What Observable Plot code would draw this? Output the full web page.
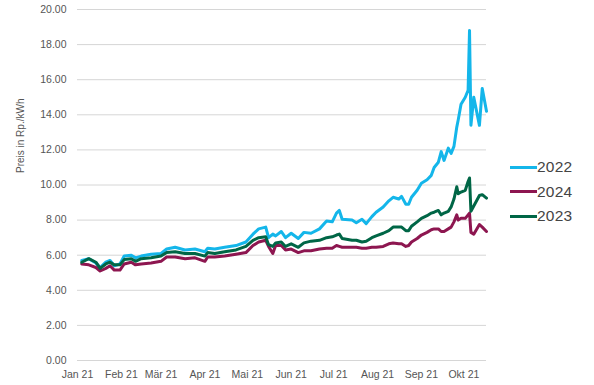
<!DOCTYPE html>
<html>
<head>
<meta charset="utf-8">
<script src="https://cdn.jsdelivr.net/npm/d3@7"></script>
<script src="https://cdn.jsdelivr.net/npm/@observablehq/plot@0.6"></script>
<style>
  html, body { margin: 0; padding: 0; background: #fff; }
  #wrap { position: relative; width: 594px; height: 385px; font-family: "Liberation Sans", Arial, sans-serif; }
  #legend { position: absolute; left: 510px; top: 155px; }
  .item { display: flex; align-items: center; height: 24.5px; }
  .swatch { width: 27px; height: 3px; }
  .lab { font-size: 15.5px; color: #444; margin-left: 0px; letter-spacing: 0.2px; }
</style>
</head>
<body>
<div id="wrap"><div id="legend"></div></div>
<script>
const dates = ["2021-01-04","2021-01-09","2021-01-14","2021-01-17","2021-01-21","2021-01-24","2021-01-27","2021-01-31",
"2021-02-03","2021-02-08","2021-02-11","2021-02-15","2021-02-22","2021-03-01","2021-03-05","2021-03-11","2021-03-18","2021-03-25",
"2021-04-01","2021-04-03","2021-04-08","2021-04-15","2021-04-23","2021-04-30","2021-05-05","2021-05-09","2021-05-14","2021-05-16",
"2021-05-19","2021-05-21","2021-05-25","2021-05-28","2021-06-01","2021-06-06","2021-06-10","2021-06-15","2021-06-21","2021-06-26",
"2021-06-30","2021-07-03","2021-07-05","2021-07-07","2021-07-14","2021-07-17","2021-07-21","2021-07-24","2021-07-28","2021-07-31",
"2021-08-05","2021-08-09","2021-08-12","2021-08-16","2021-08-18","2021-08-21","2021-08-23","2021-08-25","2021-08-29","2021-09-01",
"2021-09-05","2021-09-08","2021-09-10","2021-09-13","2021-09-15","2021-09-17","2021-09-20","2021-09-22","2021-09-24","2021-09-26",
"2021-09-27","2021-09-29","2021-10-02","2021-10-04","2021-10-05","2021-10-06","2021-10-08","2021-10-12","2021-10-14","2021-10-17"];

const v2022 = [5.7,5.8,5.55,5.3,5.6,5.7,5.4,5.5,
5.95,6.0,5.85,5.95,6.05,6.1,6.35,6.45,6.3,6.35,
6.2,6.4,6.35,6.45,6.55,6.75,7.2,7.5,7.6,7.0,
7.2,7.1,7.35,7.0,7.25,6.95,7.3,7.25,7.5,7.95,
7.9,8.4,8.55,8.05,8.0,7.85,8.05,7.8,8.2,8.45,
8.75,9.1,9.3,9.2,9.35,8.9,8.9,9.3,9.7,10.1,
10.3,10.55,11.0,11.3,11.9,11.4,12.1,11.8,12.2,13.3,
13.7,14.6,15.0,15.4,18.8,13.4,15.0,13.4,15.5,14.2];

const v2023 = [5.6,5.8,5.6,5.25,5.5,5.6,5.45,5.45,
5.75,5.8,5.65,5.8,5.85,5.95,6.15,6.2,6.1,6.1,
5.95,6.15,6.1,6.2,6.3,6.5,6.85,7.0,7.05,6.6,
6.5,6.7,6.75,6.5,6.65,6.45,6.7,6.8,6.85,7.0,
7.05,7.15,7.2,6.95,6.85,6.85,6.75,6.8,7.0,7.1,
7.25,7.4,7.6,7.6,7.6,7.4,7.4,7.65,7.9,8.1,
8.25,8.4,8.45,8.55,8.3,8.4,8.5,8.75,9.2,9.9,
9.5,9.6,9.7,10.2,10.4,8.5,8.8,9.4,9.45,9.25];

const v2024 = [5.5,5.45,5.3,5.1,5.25,5.4,5.15,5.15,
5.5,5.6,5.45,5.5,5.55,5.65,5.9,5.9,5.8,5.85,
5.65,5.9,5.9,5.95,6.05,6.15,6.55,6.75,6.85,6.5,
6.1,6.55,6.55,6.3,6.35,6.15,6.25,6.25,6.35,6.4,
6.4,6.55,6.5,6.45,6.45,6.45,6.4,6.4,6.45,6.45,
6.5,6.65,6.7,6.65,6.65,6.5,6.55,6.75,6.95,7.15,
7.3,7.45,7.5,7.5,7.35,7.35,7.5,7.6,7.9,8.3,
8.0,8.1,8.1,8.3,8.4,7.3,7.2,7.75,7.6,7.35];

const seriesNames = ["2022", "2024", "2023"];
const seriesColors = ["#14b6ea", "#8d1650", "#006646"];
const monthTicks = ["2021-01-01","2021-02-01","2021-03-01","2021-04-01","2021-05-01","2021-06-01","2021-07-01","2021-08-01","2021-09-01","2021-10-01"];
const monthLabels = ["Jan 21","Feb 21","Mär 21","Apr 21","Mai 21","Jun 21","Jul 21","Aug 21","Sep 21","Okt 21"];
const yTicks = [0,2,4,6,8,10,12,14,16,18,20];
const yLabel = "Preis in Rp./kWh";

const valuesBySeries = {"2022": v2022, "2024": v2024, "2023": v2023};
const data = [];
for (const s of seriesNames) {
  valuesBySeries[s].forEach((v, i) => data.push({series: s, date: new Date(dates[i]), value: v}));
}
const tickDates = monthTicks.map(d => new Date(d));

const chart = Plot.plot({
  width: 594,
  height: 385,
  marginLeft: 77,
  marginRight: 108,
  marginTop: 9,
  marginBottom: 25,
  style: {fontFamily: "'Liberation Sans', Arial, sans-serif", fontSize: "10.5px", color: "#555", background: "#fff"},
  x: {type: "utc", domain: [new Date("2021-01-01"), new Date("2021-10-17")]},
  y: {domain: [0, 20]},
  color: {domain: seriesNames, range: seriesColors},
  marks: [
    Plot.gridY(yTicks, {stroke: "#d6d6d6", strokeOpacity: 1}),
    Plot.axisY(yTicks, {tickSize: 0, tickPadding: 11, tickFormat: d => d.toFixed(2), label: null}),
    Plot.axisX(tickDates, {tickSize: 0, tickPadding: 10, tickFormat: (d, i) => monthLabels[i], label: null}),
    Plot.line(data, {x: "date", y: "value", z: "series", stroke: "series", strokeWidth: 3, strokeLinejoin: "round", curve: "linear"}),
    Plot.text([yLabel], {frameAnchor: "left", dx: -57, dy: -12, rotate: -90, fill: "#555", fontSize: 10})
  ]
});
document.getElementById("wrap").prepend(chart);

const legend = document.getElementById("legend");
seriesNames.forEach((s, i) => {
  const item = document.createElement("div");
  item.className = "item";
  item.innerHTML = `<span class="swatch" style="background:${seriesColors[i]}"></span><span class="lab">${s}</span>`;
  legend.appendChild(item);
});
</script>
</body>
</html>
